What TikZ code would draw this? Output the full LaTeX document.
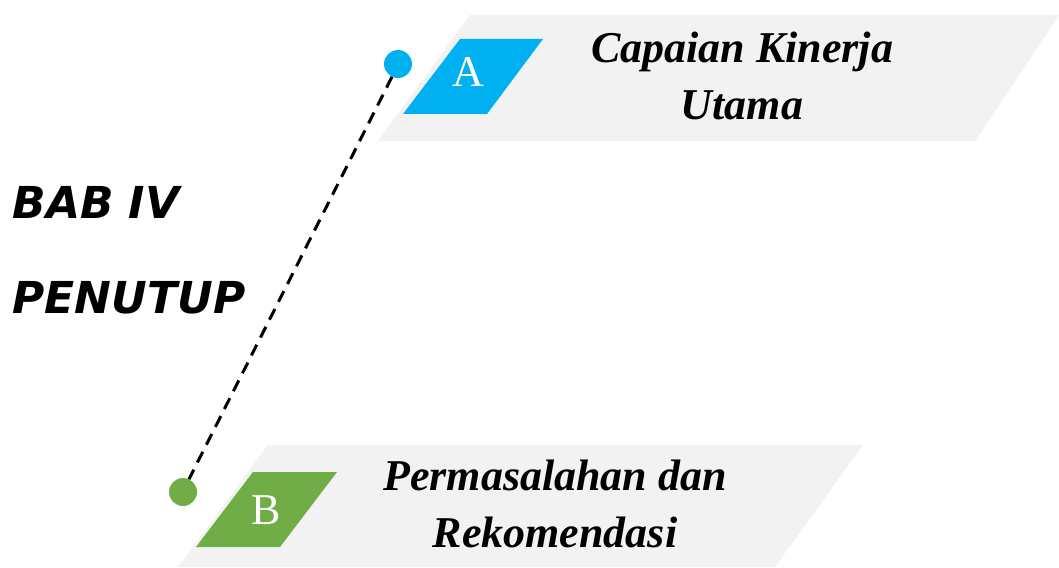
\documentclass[tikz,border=0pt]{standalone}
\usepackage{fontspec}
\setmainfont{Liberation Serif}
\newfontfamily\headfont{DejaVu Sans}
\definecolor{bandgray}{HTML}{F2F2F2}
\definecolor{tagblue}{HTML}{00B0F0}
\definecolor{taggreen}{HTML}{70AD47}
\tikzset{
  band/.style={fill=bandgray, draw=none},
  dotA/.style={circle, fill=tagblue, minimum size=28pt, inner sep=0pt},
  dotB/.style={circle, fill=taggreen, minimum size=28pt, inner sep=0pt},
  tagtext/.style={text=white, font=\fontsize{44}{46}\selectfont},
  itemtext/.style={align=center, font=\fontsize{44}{57}\selectfont\bfseries\itshape},
  headtext/.style={anchor=west, font=\headfont\fontsize{44}{48}\selectfont\bfseries\itshape},
  connector/.style={line width=3pt, dash pattern=on 12pt off 8pt}
}
\begin{document}
\begin{tikzpicture}[x=1pt, y=-1pt]
\useasboundingbox (0,0) rectangle (1059,567);
% bands
\fill[band] (470,15) -- (1059,15) -- (975,141) -- (378,141) -- cycle;
\fill[band] (268,445) -- (863,445) -- (775,567) -- (178,567) -- cycle;
% tags
\fill[tagblue] (460,39) -- (543,39) -- (487,114) -- (403,114) -- cycle;
\fill[taggreen] (253,472) -- (337,472) -- (280,547) -- (196,547) -- cycle;
\node[tagtext] (tA) at (468,72) {A};
\node[tagtext] (tB) at (266,510) {B};
% dots
\node[dotA] (cA) at (398,64) {};
\node[dotB] (cB) at (183,492) {};
\draw[connector] (cA.-115) -- (cB.65);
% texts
\node[itemtext] (txA) at (742,76) {Capaian Kinerja\\Utama};
\node[itemtext] (txB) at (555,504) {Permasalahan dan\\Rekomendasi};
\node[headtext] (h1) at (9,202) {BAB IV};
\node[headtext] (h2) at (9,298) {PENUTUP};
\end{tikzpicture}
\end{document}
